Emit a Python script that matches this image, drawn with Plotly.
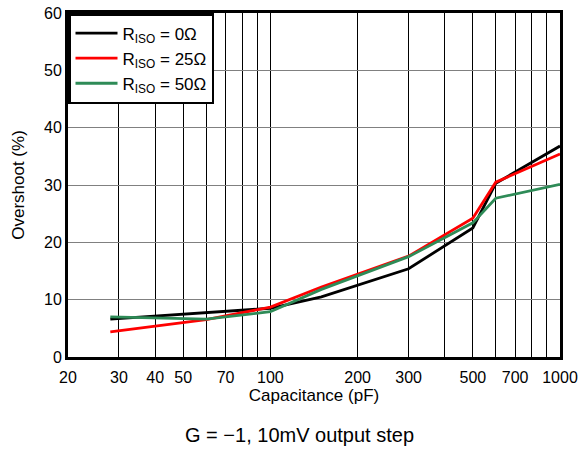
import plotly.graph_objects as go

cap_r0 = [28, 100, 150, 300, 500, 600, 1000]
os_r0 = [6.6, 8.5, 10.5, 15.4, 22.5, 30.3, 36.8]

cap_r25 = [28, 60, 100, 150, 300, 500, 600, 1000]
os_r25 = [4.4, 6.5, 8.7, 12.2, 17.6, 24.2, 30.5, 35.4]

cap_r50 = [28, 60, 100, 150, 300, 500, 600, 1000]
os_r50 = [7.0, 6.6, 7.9, 11.8, 17.5, 23.4, 27.7, 30.1]

x_ticks = [20, 30, 40, 50, 60, 70, 80, 90, 100, 200, 300, 400, 500, 600, 700, 800, 900, 1000]
x_labels = ["20", "30", "40", "50", "", "70", "", "", "100", "200", "300", "", "500", "", "700", "", "", "1000"]
y_ticks = [0, 10, 20, 30, 40, 50, 60]

font = "Liberation Sans, Arial, sans-serif"

fig = go.Figure()
fig.add_trace(go.Scatter(x=cap_r0, y=os_r0, mode="lines", name="R<sub>ISO</sub> = 0Ω",
                         line=dict(color="black", width=2.8)))
fig.add_trace(go.Scatter(x=cap_r25, y=os_r25, mode="lines", name="R<sub>ISO</sub> = 25Ω",
                         line=dict(color="#ff0000", width=2.8)))
fig.add_trace(go.Scatter(x=cap_r50, y=os_r50, mode="lines", name="R<sub>ISO</sub> = 50Ω",
                         line=dict(color="#2e8b57", width=2.8)))

fig.update_layout(
    width=580, height=451,
    margin=dict(l=68, r=20, t=13, b=94),
    paper_bgcolor="white", plot_bgcolor="white",
    font=dict(family=font, size=16, color="black"),
    showlegend=True,
    legend=dict(x=0, y=1, xanchor="left", yanchor="top", bgcolor="white",
                bordercolor="black", borderwidth=2.5, font=dict(size=17),
                tracegroupgap=0, itemwidth=42),
    xaxis=dict(type="log", range=[1.30103, 3], tickvals=x_ticks, ticktext=x_labels,
               showgrid=True, gridcolor="black", gridwidth=1,
               showline=True, linecolor="black", linewidth=3, mirror=True,
               ticks="", zeroline=False, automargin=False, ticklabeloverflow="allow",
               ticklabelstandoff=4,
               title=dict(text="Capacitance (pF)", font=dict(size=17), standoff=3),
               tickfont=dict(size=16)),
    yaxis=dict(range=[0, 60], tickvals=y_ticks,
               showgrid=True, gridcolor="#808080", gridwidth=1,
               showline=True, linecolor="black", linewidth=3, mirror=True,
               ticks="", zeroline=False, automargin=False, ticklabeloverflow="allow",
               title=dict(text="Overshoot (%)", font=dict(size=17), standoff=16),
               tickfont=dict(size=16)),
    annotations=[dict(text="G = −1, 10mV output step", xref="paper", yref="paper",
                      x=0.4715, y=-0.2267, xanchor="center", yanchor="middle",
                      showarrow=False, font=dict(size=20))],
)

fig.write_html("out.html", config={"displayModeBar": False},
               post_script="document.body.style.margin='0';")
